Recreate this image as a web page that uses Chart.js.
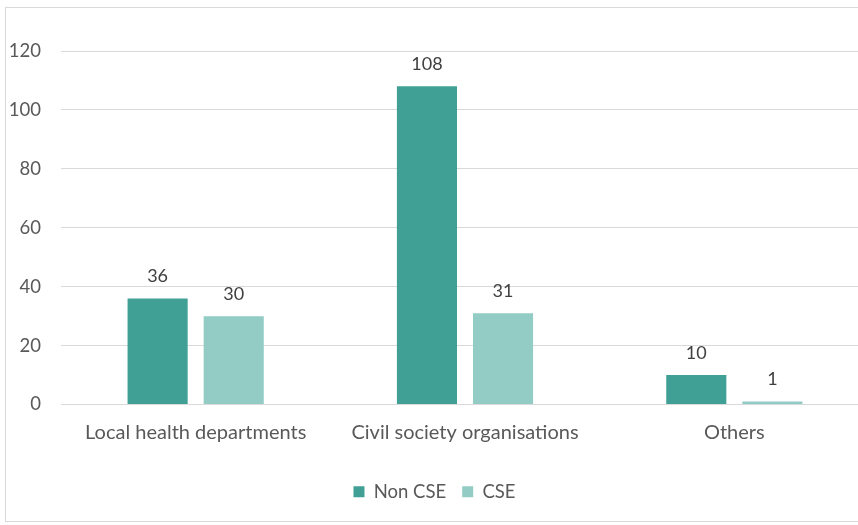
<!DOCTYPE html>
<html>
<head>
<meta charset="utf-8">
<script src="https://cdn.jsdelivr.net/npm/chart.js@4.4.1/dist/chart.umd.min.js"></script>
<style>
  html, body { margin: 0; padding: 0; background: #fff; overflow: hidden; }
  #frame { position: absolute; left: 5px; top: 7px; width: 900px; height: 513px; border: 1px solid #d9d9d9; }
  #wrap { position: absolute; left: 0; top: 0; width: 869px; height: 525px; }
</style>
</head>
<body>
<div id="frame"></div>
<div id="wrap"><canvas id="chart"></canvas></div>
<script>
const categories = ["Local health departments", "Civil society organisations", "Others"];
const nonCse = [36, 108, 10];
const cse = [30, 31, 1];
const seriesNames = ["Non CSE", "CSE"];
const yTicks = [0, 20, 40, 60, 80, 100, 120];

const fontFamily = "Lato, 'Open Sans', sans-serif";

// draws the numbers above each bar
const valueLabels = {
  id: 'valueLabels',
  afterDatasetsDraw(chart) {
    const ctx = chart.ctx;
    ctx.save();
    ctx.font = "18px " + fontFamily;
    ctx.fillStyle = "#404040";
    ctx.textAlign = "center";
    ctx.textBaseline = "middle";
    chart.data.datasets.forEach(function (ds, i) {
      chart.getDatasetMeta(i).data.forEach(function (bar, j) {
        ctx.fillText(ds.data[j], bar.x, bar.y - 22);
      });
    });
    ctx.restore();
  }
};

const ctx = document.getElementById("chart").getContext("2d");
new Chart(ctx, {
  type: "bar",
  data: {
    labels: categories,
    datasets: [
      { label: seriesNames[0], data: nonCse, backgroundColor: "#40a096" },
      { label: seriesNames[1], data: cse, backgroundColor: "#93ccc5" }
    ]
  },
  options: {
    responsive: true,
    maintainAspectRatio: false,
    animation: false,
    layout: { padding: { top: 51, bottom: 14, left: 0, right: 0 } },
    datasets: { bar: { categoryPercentage: 0.565, barPercentage: 0.79 } },
    scales: {
      x: {
        grid: { display: false },
        border: { display: false },
        ticks: { color: "#595959", font: { family: fontFamily, size: 20 }, padding: 8 },
        afterFit(scale) { scale.height = 62; }
      },
      y: {
        min: 0,
        max: 120,
        afterBuildTicks(scale) { scale.ticks = yTicks.map(v => ({ value: v })); },
        grid: { color: "#d9d9d9", lineWidth: 1, drawTicks: false },
        border: { display: false },
        ticks: { color: "#595959", font: { family: fontFamily, size: 18.5 }, padding: 20 },
        afterFit(scale) { scale.width = 61; }
      }
    },
    plugins: {
      legend: {
        position: "bottom",
        labels: {
          color: "#595959",
          font: { family: fontFamily, size: 18.5 },
          boxWidth: 11,
          boxHeight: 11,
          padding: 16
        }
      },
      tooltip: { enabled: false }
    }
  },
  plugins: [valueLabels]
});
</script>
</body>
</html>
